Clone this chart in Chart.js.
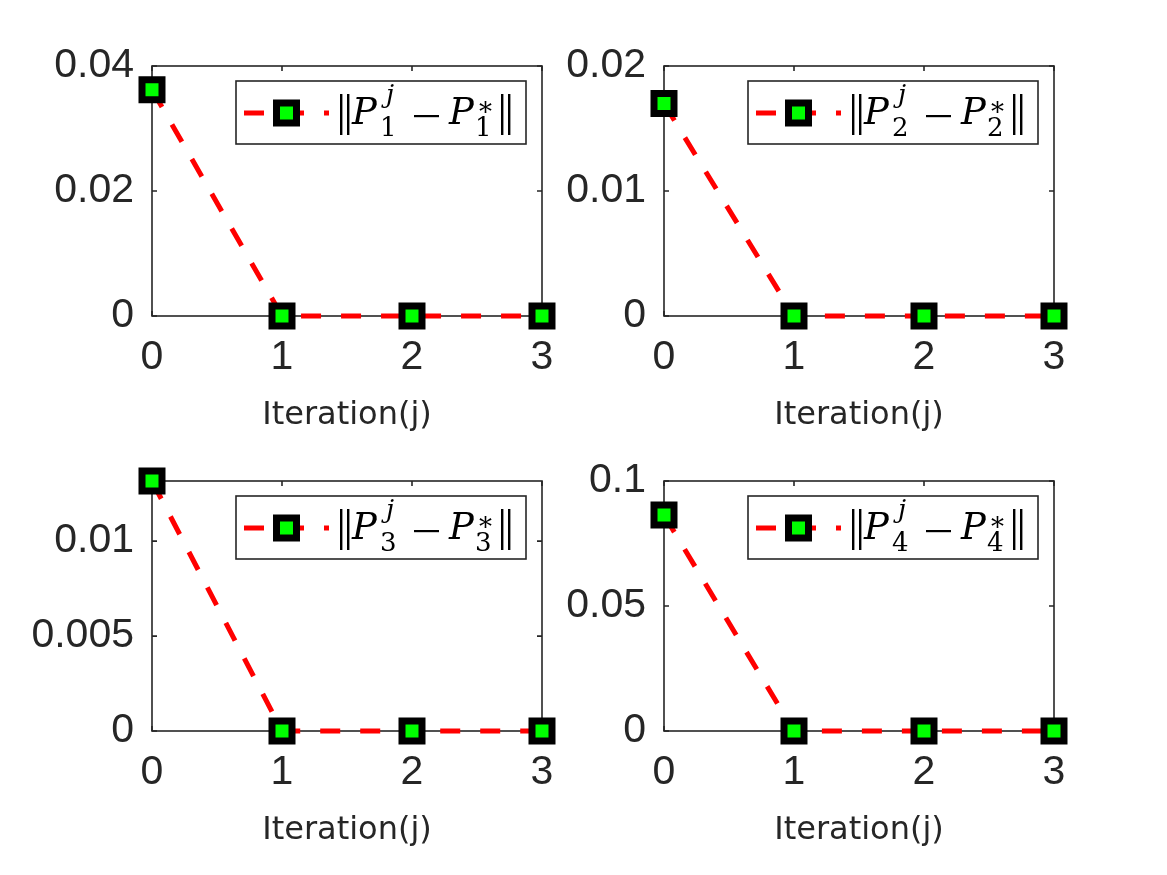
<!DOCTYPE html>
<html>
<head>
<meta charset="utf-8">
<title>Iteration error</title>
<script src="https://cdn.jsdelivr.net/npm/chart.js@4.4.1/dist/chart.umd.min.js"></script>
<style>
  html, body { margin: 0; padding: 0; background: #fff; }
  body { width: 1167px; height: 875px; position: relative; overflow: hidden; }
  .panel { position: absolute; width: 583px; height: 437px; }
</style>
</head>
<body>
<div class="panel" style="left:0;top:0"><canvas id="c1" width="583" height="437"></canvas></div>
<div class="panel" style="left:512px;top:0"><canvas id="c2" width="583" height="437"></canvas></div>
<div class="panel" style="left:0;top:415px"><canvas id="c3" width="583" height="437"></canvas></div>
<div class="panel" style="left:512px;top:415px"><canvas id="c4" width="583" height="437"></canvas></div>
<script>
const iterations = [0, 1, 2, 3]
const errP1 = [0.0362, 0, 0, 0]
const errP2 = [0.0170, 0, 0, 0]
const errP3 = [0.01317, 0, 0, 0]
const errP4 = [0.0864, 0, 0, 0]
const yMaxes = [0.04, 0.02, 0.01317, 0.1]
const yTickSteps = [0.02, 0.01, 0.005, 0.05]
const subscripts = ["1", "2", "3", "4"]

const AXIS_COLOR = "#262626"

// MATLAB style box with inward tick marks
const boxPlugin = {
  id: "matlabBox",
  beforeDatasetsDraw(chart) {
    const { ctx, chartArea: a, scales } = chart
    ctx.save()
    ctx.strokeStyle = AXIS_COLOR
    ctx.lineWidth = 1.6
    ctx.strokeRect(a.left, a.top, a.right - a.left, a.bottom - a.top)
    const len = 5
    ctx.beginPath()
    scales.x.ticks.forEach((t) => {
      const px = scales.x.getPixelForValue(t.value)
      ctx.moveTo(px, a.bottom); ctx.lineTo(px, a.bottom - len)
      ctx.moveTo(px, a.top); ctx.lineTo(px, a.top + len)
    })
    scales.y.ticks.forEach((t) => {
      const py = scales.y.getPixelForValue(t.value)
      ctx.moveTo(a.left, py); ctx.lineTo(a.left + len, py)
      ctx.moveTo(a.right, py); ctx.lineTo(a.right - len, py)
    })
    ctx.stroke()
    ctx.restore()
  },
}

// legend with the norm written out like the LaTeX one
const legendPlugin = {
  id: "mathLegend",
  afterDraw(chart, args, opts) {
    const { ctx, chartArea: a } = chart
    const w = 290, h = 63
    const L = a.right - 16 - w
    const T = a.top + 15
    const cy = T + 32
    ctx.save()
    ctx.fillStyle = "#fff"
    ctx.fillRect(L, T, w, h)
    ctx.strokeStyle = AXIS_COLOR
    ctx.lineWidth = 1.6
    ctx.strokeRect(L, T, w, h)

    // line sample
    ctx.strokeStyle = "#ff0000"
    ctx.lineWidth = 5
    ctx.setLineDash([20, 20])
    ctx.beginPath()
    ctx.moveTo(L + 8, cy); ctx.lineTo(L + 93, cy)
    ctx.stroke()
    ctx.setLineDash([])
    // marker
    const mx = L + 50.5
    ctx.fillStyle = "#000"
    ctx.fillRect(mx - 13.5, cy - 13.5, 27, 27)
    ctx.fillStyle = "#00ff00"
    ctx.fillRect(mx - 6.5, cy - 6.5, 13, 13)

    // text
    ctx.fillStyle = "#000"
    const bars = (x) => {
      ctx.fillRect(x, cy - 19, 2.4, 41)
      ctx.fillRect(x + 7, cy - 19, 2.4, 41)
    }
    bars(L + 104)
    ctx.textBaseline = "alphabetic"
    const big = 'italic 37px "DejaVu Serif", serif'
    const small = '26px "DejaVu Serif", serif'
    const smallIt = 'italic 26px "DejaVu Serif", serif'
    ctx.font = big
    ctx.fillText("P", L + 116, cy + 11)
    ctx.font = smallIt
    ctx.fillText("j", L + 150, cy - 10)
    ctx.font = small
    ctx.fillText(opts.sub, L + 144, cy + 23)
    // minus sign
    ctx.fillRect(L + 178, cy + 2, 25, 2.2)
    ctx.font = big
    ctx.fillText("P", L + 213, cy + 11)
    ctx.font = small
    ctx.fillText("*", L + 243, cy + 8)
    ctx.fillText(opts.sub, L + 239, cy + 23)
    bars(L + 265)
    ctx.restore()
  },
}

function makeChart(id, values, yMax, yStep, sub) {
  return new Chart(document.getElementById(id), {
    type: "line",
    data: {
      datasets: [
        {
          data: iterations.map((x, i) => ({ x: x, y: values[i] })),
          borderColor: "#ff0000",
          borderWidth: 5,
          borderDash: [20, 20],
          pointStyle: "rect",
          pointRadius: 14.14,
          pointHoverRadius: 14.14,
          pointBackgroundColor: "#00ff00",
          pointBorderColor: "#000000",
          pointBorderWidth: 7,
          tension: 0,
          clip: false,
        },
      ],
    },
    options: {
      responsive: false,
      animation: false,
      events: [],
      layout: { padding: { top: 66, right: 41, left: 0, bottom: 0 } },
      plugins: {
        legend: { display: false },
        tooltip: { enabled: false },
        mathLegend: { sub: sub },
      },
      scales: {
        x: {
          type: "linear",
          min: 0,
          max: 3,
          grid: { display: false, drawTicks: false },
          border: { display: false },
          ticks: {
            stepSize: 1,
            padding: 17,
            color: AXIS_COLOR,
            font: { family: '"Liberation Sans", Arial, sans-serif', size: 41 },
          },
          title: {
            display: true,
            text: "Iteration(j)",
            color: AXIS_COLOR,
            padding: { top: 0, bottom: 2 },
            font: { family: '"DejaVu Sans", sans-serif', size: 32 },
          },
          afterFit(scale) { scale.height = 121 },
        },
        y: {
          min: 0,
          max: yMax,
          grid: { display: false, drawTicks: false },
          border: { display: false },
          ticks: {
            stepSize: yStep,
            includeBounds: false,
            padding: 18,
            color: AXIS_COLOR,
            font: { family: '"Liberation Sans", Arial, sans-serif', size: 41 },
            callback: (v) => String(parseFloat(v.toFixed(6))),
          },
          afterFit(scale) { scale.width = 152 },
        },
      },
    },
    plugins: [boxPlugin, legendPlugin],
  })
}

makeChart("c1", errP1, yMaxes[0], yTickSteps[0], subscripts[0])
makeChart("c2", errP2, yMaxes[1], yTickSteps[1], subscripts[1])
makeChart("c3", errP3, yMaxes[2], yTickSteps[2], subscripts[2])
makeChart("c4", errP4, yMaxes[3], yTickSteps[3], subscripts[3])
</script>
</body>
</html>
